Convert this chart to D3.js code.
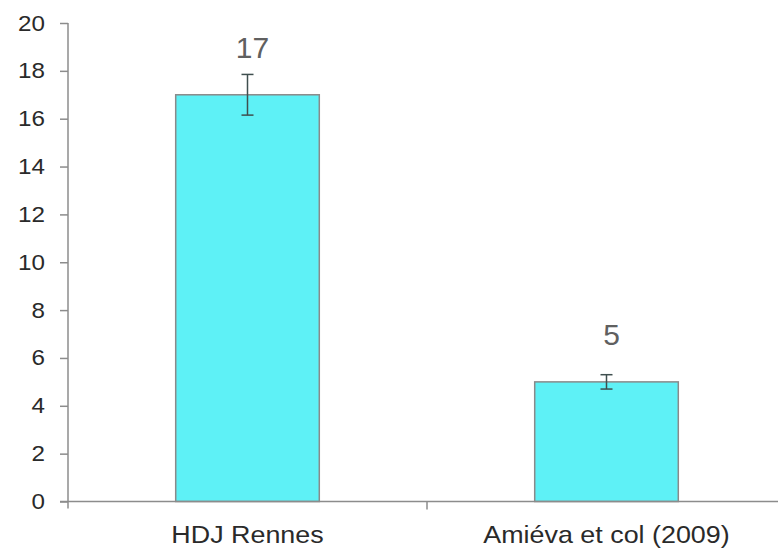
<!DOCTYPE html>
<html>
<head>
<meta charset="utf-8">
<script src="https://cdn.jsdelivr.net/npm/d3@7"></script>
<style>
  body { margin: 0; background: #fff; }
  svg { display: block; }
</style>
</head>
<body>
<svg width="778" height="549" viewBox="0 0 778 549"></svg>
<script>
// Data
const categories = ["HDJ Rennes", "Amiéva et col (2009)"];
const values = [17, 5];
const errors = [0.85, 0.3];
const yTicks = [0, 2, 4, 6, 8, 10, 12, 14, 16, 18, 20];

const svg = d3.select("svg");
const font = "Liberation Sans, Arial, sans-serif";

// Plot area
const plotLeft = 68, plotRight = 786, plotTop = 23, plotBottom = 501.5;

const x = d3.scaleBand()
    .domain(categories)
    .range([plotLeft, plotRight])
    .padding(0);

const y = d3.scaleLinear()
    .domain([0, 20])
    .range([plotBottom, plotTop]);

const axisColor = "#8c8c8c";
const barWidth = x.bandwidth() * 0.4;

// Bars
svg.append("g")
    .selectAll("rect")
    .data(values)
    .enter()
    .append("rect")
    .attr("x", (d, i) => x(categories[i]) + x.bandwidth() / 2 - barWidth / 2)
    .attr("y", d => y(d))
    .attr("width", barWidth)
    .attr("height", d => y(0) - y(d))
    .attr("fill", "#5ef1f6")
    .attr("stroke", "#8a8a8a")
    .attr("stroke-width", 1.5);

// Error bars
const errG = svg.append("g")
    .attr("stroke", "#3f4f4f")
    .attr("stroke-width", 1.5);

values.forEach((v, i) => {
    const cx = x(categories[i]) + x.bandwidth() / 2;
    const e = errors[i];
    errG.append("line")
        .attr("x1", cx).attr("x2", cx)
        .attr("y1", y(v + e)).attr("y2", y(v - e));
    [v + e, v - e].forEach(t => {
        errG.append("line")
            .attr("x1", cx - 6).attr("x2", cx + 6)
            .attr("y1", y(t)).attr("y2", y(t));
    });
});

// Value labels
svg.append("g")
    .selectAll("text")
    .data(values)
    .enter()
    .append("text")
    .attr("transform", (d, i) =>
        `translate(${x(categories[i]) + x.bandwidth() / 2 + 5},${y(d) - 37})`)
    .attr("text-anchor", "middle")
    .attr("font-family", font)
    .attr("font-size", 30)
    .attr("fill", "#606060")
    .text(d => d);

// Y axis
const yAxis = svg.append("g")
    .attr("transform", `translate(${plotLeft},0)`)
    .call(d3.axisLeft(y).tickValues(yTicks).tickSize(8).tickPadding(0));

yAxis.select(".domain").remove();
yAxis.append("line")
    .attr("x1", 0).attr("x2", 0)
    .attr("y1", plotTop).attr("y2", plotBottom + 7)
    .attr("stroke", axisColor)
    .attr("stroke-width", 1.5);
yAxis.selectAll(".tick line").attr("stroke", axisColor).attr("stroke-width", 1.5);
yAxis.selectAll(".tick text")
    .attr("x", null)
    .attr("transform", "translate(-23,0) scale(1.1,1)")
    .attr("font-family", font)
    .attr("font-size", 22)
    .attr("fill", "#2a2a2a");

// X axis
const xAxis = svg.append("g")
    .attr("transform", `translate(0,${plotBottom})`);

xAxis.append("line")
    .attr("x1", plotLeft - 8).attr("x2", plotRight)
    .attr("y1", 0).attr("y2", 0)
    .attr("stroke", axisColor)
    .attr("stroke-width", 1.5);

xAxis.selectAll(".sep")
    .data(categories.slice(1))
    .enter()
    .append("line")
    .attr("x1", d => x(d)).attr("x2", d => x(d))
    .attr("y1", 0).attr("y2", 8)
    .attr("stroke", axisColor)
    .attr("stroke-width", 1.5);

xAxis.selectAll("text")
    .data(categories)
    .enter()
    .append("text")
    .attr("transform", d => `translate(${x(d) + x.bandwidth() / 2},${41}) scale(1.12,1)`)
    .attr("text-anchor", "middle")
    .attr("font-family", font)
    .attr("font-size", 24)
    .attr("fill", "#2a2a2a")
    .text(d => d);
</script>
</body>
</html>
